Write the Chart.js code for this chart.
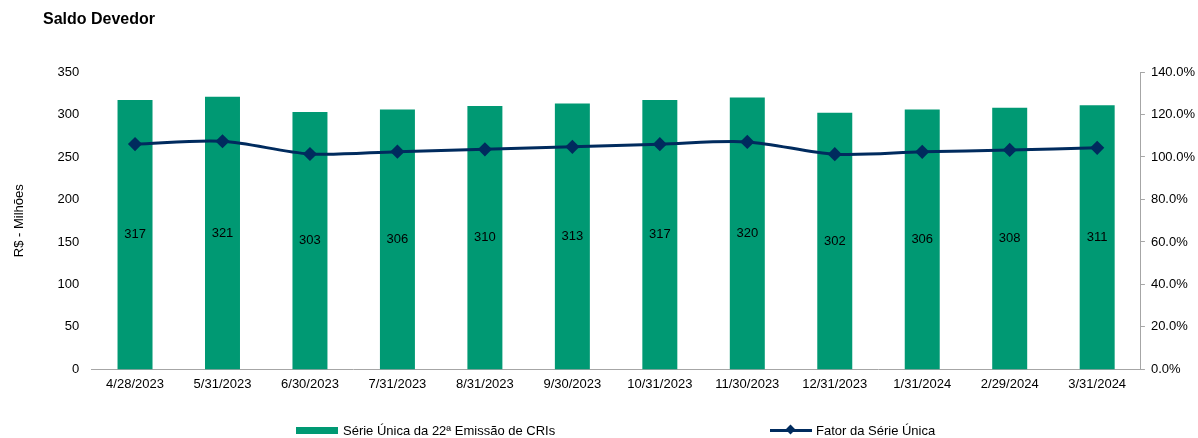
<!DOCTYPE html>
<html>
<head>
<meta charset="utf-8">
<script src="https://cdn.jsdelivr.net/npm/chart.js@4/dist/chart.umd.min.js"></script>
<style>
  body { margin: 0; background: #fff; font-family: "Liberation Sans", Arial, sans-serif; }
  #wrap { position: relative; width: 1198px; height: 438px; }
  #title { position: absolute; left: 43px; top: 10px; font-weight: bold; font-size: 16px; color: #000; }
  .leg { position: absolute; top: 423px; font-size: 13px; color: #000; display: flex; align-items: center; white-space: nowrap; }
  .box { width: 42px; height: 7px; background: #009973; margin-right: 5px; }
  .ln { position: relative; width: 42px; height: 3px; background: #002b5e; margin-right: 4px; }
  .ln::after { content: ""; position: absolute; left: 17px; top: -3px; width: 7px; height: 7px; background: #002b5e; transform: rotate(45deg); }
</style>
</head>
<body>
<div id="wrap">
  <div id="title">Saldo Devedor</div>
  <canvas id="myChart" width="1198" height="438"></canvas>
  <div class="leg" style="left:296px"><span class="box"></span>Série Única da 22ª Emissão de CRIs</div>
  <div class="leg" style="left:770px"><span class="ln"></span>Fator da Série Única</div>
</div>
<script>
var labelSet = ['4/28/2023', '5/31/2023', '6/30/2023', '7/31/2023', '8/31/2023', '9/30/2023',
    '10/31/2023', '11/30/2023', '12/31/2023', '1/31/2024', '2/29/2024', '3/31/2024'];
var saldoSet = [317, 321, 303, 306, 310, 313, 317, 320, 302, 306, 308, 311];
var fatorSet = [106.1, 107.4, 101.4, 102.5, 103.6, 104.8, 106.0, 107.1, 101.3, 102.4, 103.3, 104.3];

var green = '#009973';
var navy = '#002b5e';
var axisGray = '#a6a6a6';

// write the value in the middle of each bar
var barValues = {
    id: 'barValues',
    afterDatasetsDraw: function (chart) {
        var ctx = chart.ctx;
        var meta = chart.getDatasetMeta(1);
        ctx.save();
        ctx.font = '13px "Liberation Sans", Arial, sans-serif';
        ctx.fillStyle = '#000';
        ctx.textAlign = 'center';
        ctx.textBaseline = 'middle';
        meta.data.forEach(function (bar, i) {
            ctx.fillText(saldoSet[i], bar.x, (bar.y + bar.base) / 2);
        });
        ctx.restore();
    }
};

var ctx = document.getElementById('myChart').getContext('2d');
var chart = new Chart(ctx, {
    type: 'bar',
    data: {
        labels: labelSet,
        datasets: [{
            type: 'line',
            label: 'Fator da Série Única',
            data: fatorSet,
            yAxisID: 'y1',
            borderColor: navy,
            backgroundColor: navy,
            borderWidth: 3,
            tension: 0.3,
            pointStyle: 'rectRot',
            pointRadius: 5,
            pointHoverRadius: 5,
            order: 0
        }, {
            label: 'Série Única da 22ª Emissão de CRIs',
            data: saldoSet,
            yAxisID: 'y',
            backgroundColor: green,
            barPercentage: 0.4,
            categoryPercentage: 1,
            order: 1
        }]
    },
    options: {
        responsive: false,
        animation: false,
        layout: { padding: { top: 72, left: 8, right: -3, bottom: 47 } },
        plugins: {
            legend: { display: false },
            tooltip: { enabled: false }
        },
        scales: {
            x: {
                grid: { display: false },
                border: { color: axisGray },
                ticks: { color: '#000', padding: -1, font: { size: 13, family: '"Liberation Sans", Arial' }, maxRotation: 0, autoSkip: false }
            },
            y: {
                position: 'left',
                min: 0,
                max: 350,
                grid: { display: false },
                border: { display: false },
                ticks: { stepSize: 50, color: '#000', padding: 4, font: { size: 13, family: '"Liberation Sans", Arial' } },
                title: { display: true, text: 'R$ - Milhões', color: '#000', font: { size: 13, family: '"Liberation Sans", Arial' }, padding: { top: 4, bottom: 26 } }
            },
            y1: {
                position: 'right',
                min: 0,
                max: 140,
                grid: { display: true, drawOnChartArea: false, color: axisGray, tickLength: 4 },
                border: { color: axisGray },
                ticks: {
                    stepSize: 20,
                    color: '#000',
                    padding: 6,
                    font: { size: 13, family: '"Liberation Sans", Arial' },
                    callback: function (v) { return v.toFixed(1) + '%'; }
                }
            }
        }
    },
    plugins: [barValues]
});
</script>
</body>
</html>
